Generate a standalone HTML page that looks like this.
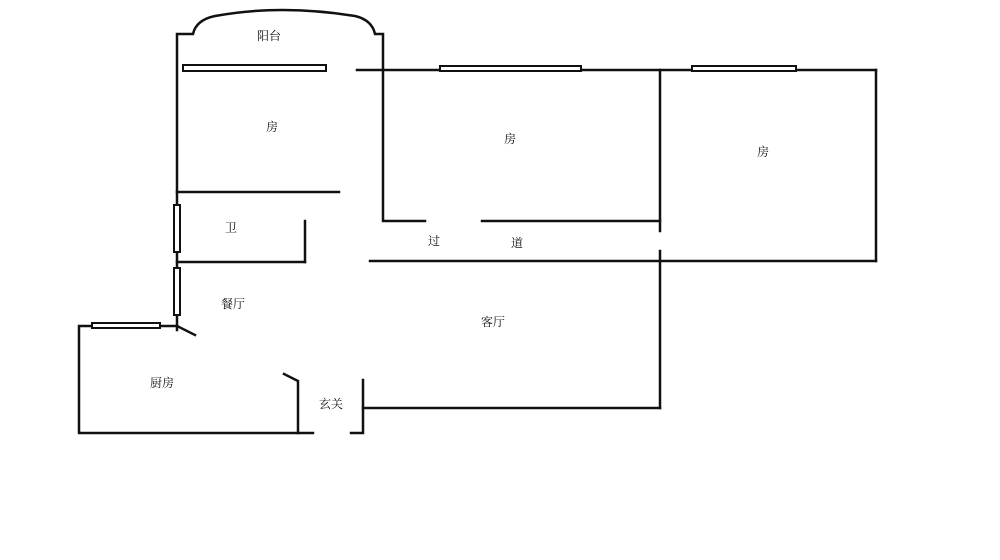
<!DOCTYPE html>
<html><head><meta charset="utf-8"><style>
html,body{margin:0;padding:0;background:#fff;width:1000px;height:560px;overflow:hidden}
text{font-family:"Liberation Serif","Noto Serif CJK SC","Noto Sans CJK SC",serif;font-size:12px;fill:#111}
</style></head><body>
<svg width="1000" height="560" xmlns="http://www.w3.org/2000/svg">
<g stroke="#111" stroke-width="2.5" fill="none" stroke-linecap="square">
<!-- balcony -->
<path d="M177,330 L177,34 L193,34 Q196,20 215,16 Q280,4 355,16 Q372,20 375,34 L383,34 L383,221 L425,221"/>
<line x1="482" y1="221" x2="660" y2="221"/>
<line x1="357" y1="70" x2="876" y2="70"/>
<line x1="876" y1="70" x2="876" y2="261"/>
<line x1="660" y1="70" x2="660" y2="231"/>
<line x1="660" y1="251" x2="660" y2="408"/>
<line x1="370" y1="261" x2="876" y2="261"/>
<line x1="177" y1="192" x2="339" y2="192"/>
<line x1="177" y1="262" x2="305" y2="262"/>
<line x1="305" y1="221" x2="305" y2="262"/>
<!-- kitchen -->
<path d="M177,326 L79,326 L79,433 L313,433"/>
<line x1="177" y1="326" x2="195" y2="335"/>
<path d="M284,374 L298,381 L298,433"/>
<!-- entrance -->
<path d="M351,433 L363,433 L363,380"/>
<line x1="363" y1="408" x2="660" y2="408"/>
</g>
<g stroke="#111" stroke-width="2" fill="#fff">
<rect x="183" y="65" width="143" height="6"/>
<rect x="440" y="66" width="141" height="5"/>
<rect x="692" y="66" width="104" height="5"/>
<rect x="174" y="205" width="6" height="47"/>
<rect x="174" y="268" width="6" height="47"/>
<rect x="92" y="323" width="68" height="5"/>
</g>
<text x="257" y="40">阳台</text>
<text x="266" y="131">房</text>
<text x="504" y="143">房</text>
<text x="757" y="156">房</text>
<text x="225" y="232">卫</text>
<text x="428" y="245">过</text>
<text x="511" y="247">道</text>
<text x="221" y="308">餐厅</text>
<text x="481" y="326">客厅</text>
<text x="150" y="387">厨房</text>
<text x="319" y="408">玄关</text>
</svg>
</body></html>
